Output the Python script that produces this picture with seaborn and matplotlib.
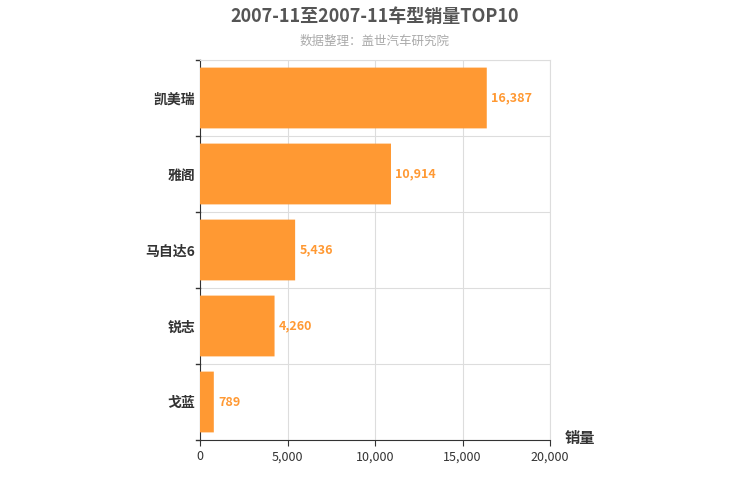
import matplotlib
matplotlib.use("Agg")
import matplotlib.pyplot as plt
import seaborn as sns
import pandas as pd
from matplotlib.patches import FancyBboxPatch

models = ["凯美瑞", "雅阁", "马自达6", "锐志", "戈蓝"]
sales = [16387, 10914, 5436, 4260, 789]
xticks = [0, 5000, 10000, 15000, 20000]

plt.rcParams["font.family"] = ["Noto Sans CJK SC", "DejaVu Sans"]
df = pd.DataFrame({"model": models, "sales": sales})

fig = plt.figure(figsize=(7.5, 5), dpi=100)
ax = fig.add_axes([200/750, 60/500, 350/750, 380/500])
sns.barplot(data=df, x="sales", y="model", color="#ff9933", width=0.8, ax=ax)

for p in list(ax.patches):
    x, y = p.get_x(), p.get_y()
    w, h = p.get_width(), p.get_height()
    p.remove()
    ax.add_patch(FancyBboxPatch((x, y), w, h, boxstyle="round,pad=0,rounding_size=0.1",
                                mutation_aspect=1/2200 * 0 + 1, fc="#ff9933", ec="none", zorder=3))

for i, v in enumerate(sales):
    ax.text(v + 250, i, f"{v:,}", va="center", ha="left", color="#ff9933", fontsize=9, fontweight="bold")

ax.set_xlim(0, 20000)
ax.set_ylim(4.5, -0.5)
ax.set_xticks(xticks)
ax.set_xticklabels([f"{t:,}" for t in xticks], fontsize=9, color="#333333")
ax.set_yticks(range(len(models)))
ax.set_yticklabels(models, fontsize=10, fontweight="bold", color="#333333")
ax.tick_params(axis="y", length=0)
ax.tick_params(axis="x", length=4, color="#333333")
for b in [-0.5, 0.5, 1.5, 2.5, 3.5, 4.5]:
    ax.plot([-0.012, 0], [b, b], transform=ax.get_yaxis_transform(), color="#333333", lw=1, clip_on=False)
    ax.axhline(b, color="#dddddd", lw=0.8, zorder=0)
for t in xticks[1:]:
    ax.axvline(t, color="#dddddd", lw=0.8, zorder=0)
for s in ["top", "right"]:
    ax.spines[s].set_color("#dddddd")
ax.spines["left"].set_color("#333333")
ax.spines["bottom"].set_color("#333333")
ax.set_xlabel("")
ax.set_ylabel("")
fig.text(565/750, 1-438/500, "销量", fontsize=11, fontweight="bold", color="#333333", ha="left", va="center")
fig.text(0.5, 1-16/500, "2007-11至2007-11车型销量TOP10", fontsize=13, fontweight="bold", color="#555555", ha="center", va="center")
fig.text(0.5, 1-41/500, "数据整理：盖世汽车研究院", fontsize=9, color="#aaaaaa", ha="center", va="center")
fig.savefig("out.png", dpi=100)
